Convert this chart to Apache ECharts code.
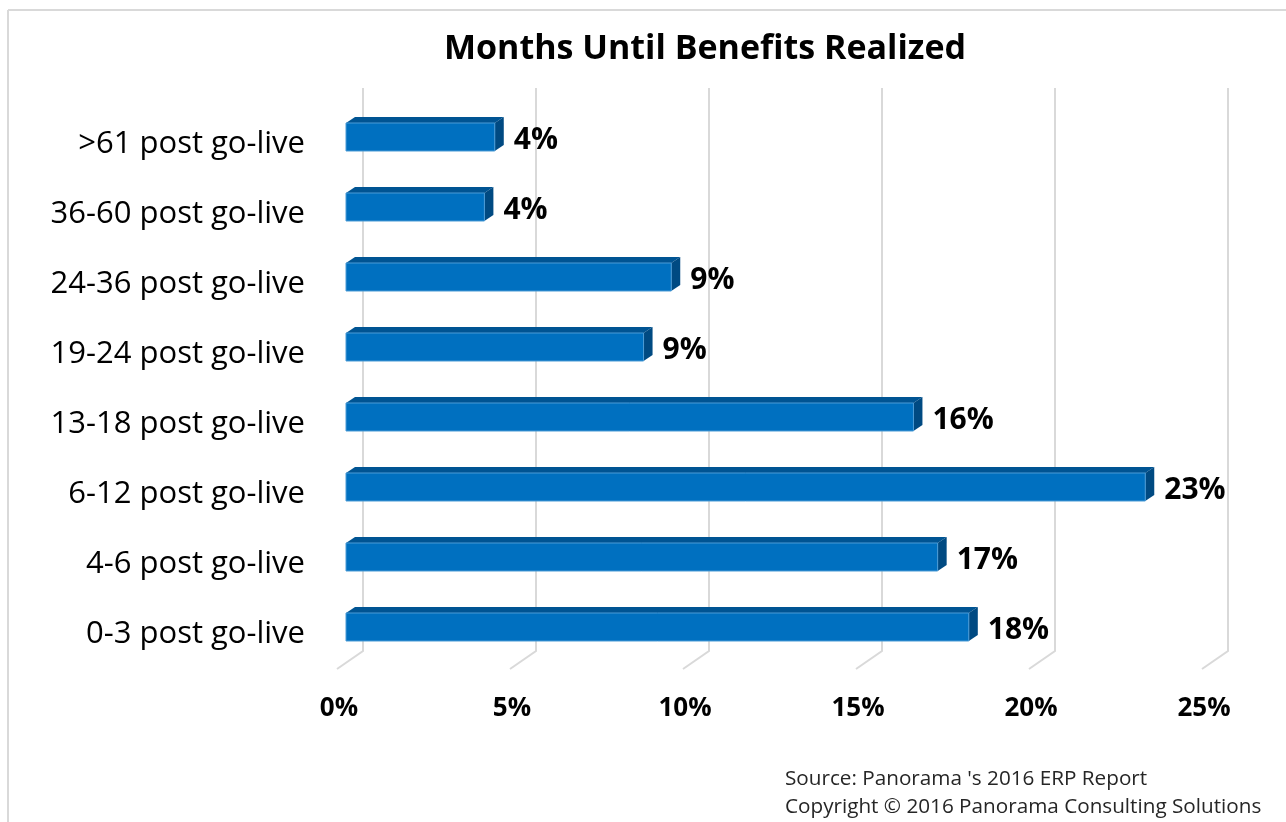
<!DOCTYPE html>
<html>
<head>
<meta charset="utf-8">
<script src="https://cdn.jsdelivr.net/npm/echarts@6/dist/echarts.min.js"></script>
<style>
  html, body { margin: 0; padding: 0; background: #ffffff; }
  #chart { width: 1286px; height: 822px; }
</style>
</head>
<body>
<div id="chart"></div>
<script>
// ---- data ----
const categories = [
  '>61 post go-live',
  '36-60 post go-live',
  '24-36 post go-live',
  '19-24 post go-live',
  '13-18 post go-live',
  '6-12 post go-live',
  '4-6 post go-live',
  '0-3 post go-live'
];
const values = [4.3, 4.0, 9.4, 8.6, 16.4, 23.1, 17.1, 18.0];
const xTicks = [0, 5, 10, 15, 20, 25];
const titleText = 'Months Until Benefits Realized';
const sourceLines = [
  "Source: Panorama 's 2016 ERP Report",
  'Copyright \u00A9 2016 Panorama Consulting Solutions'
];

const FONT = '"Open Sans", "Noto Sans", sans-serif';
const DX = 9, DY = -6, BAR_H = 28;

const chart = echarts.init(document.getElementById('chart'), null, { renderer: 'canvas' });

function renderBar(params, api) {
  const idx = api.value(0);
  const v = api.value(1);
  const p0 = api.coord([0, idx]);
  const p1 = api.coord([v, idx]);
  const x0 = p0[0], x1 = p1[0], c = p0[1];
  const yt = c - BAR_H / 2, yb = c + BAR_H / 2;
  return {
    type: 'group',
    children: [
      { type: 'polygon', shape: { points: [[x0, yt], [x0 + DX, yt + DY], [x1 + DX, yt + DY], [x1, yt]] },
        style: { fill: '#005493' } },
      { type: 'polygon', shape: { points: [[x1, yt], [x1 + DX, yt + DY], [x1 + DX, yb + DY], [x1, yb]] },
        style: { fill: '#004a82' } },
      { type: 'rect', shape: { x: x0, y: yt, width: x1 - x0, height: BAR_H },
        style: { fill: '#0070c0', stroke: '#4a9bd6', lineWidth: 1 } },
      { type: 'text', x: x1 + DX + 10, y: c + 3,
        style: { text: Math.round(v) + '%', fill: '#000', font: 'bold 30px ' + FONT,
                 textAlign: 'left', textVerticalAlign: 'middle' } },
      { type: 'text', x: x0 - 41, y: c + 7,
        style: { text: categories[idx], fill: '#000', font: '31px ' + FONT,
                 textAlign: 'right', textVerticalAlign: 'middle' } }
    ]
  };
}

function renderGrid(params, api) {
  const t = api.value(0);
  const p = api.coord([t, 0]);
  const cs = params.coordSys;
  const xf = p[0];
  const xb = xf + 17;
  const yTop = 88;
  const yBack = cs.y + cs.height - 11;
  const yFront = cs.y + cs.height + 7;
  return {
    type: 'polyline',
    shape: { points: [[xb, yTop], [xb, yBack], [xf - 9, yFront]] },
    style: { stroke: '#d9d9d9', lineWidth: 2, fill: null },
    z2: 0
  };
}

const option = {
  animation: false,
  backgroundColor: '#ffffff',
  title: {
    text: titleText,
    left: 700, top: 27, textAlign: 'center',
    textStyle: { fontFamily: FONT, fontWeight: 'bold', fontSize: 34, color: '#000' }
  },
  grid: { left: 346, right: 75, top: 102, bottom: 160, containLabel: false },
  xAxis: {
    type: 'value', min: 0, max: 25, interval: 5,
    splitLine: { show: false }, axisLine: { show: false }, axisTick: { show: false },
    axisLabel: { formatter: '{value}%', margin: 34, color: '#000', fontFamily: FONT,
                 fontWeight: 'bold', fontSize: 26, padding: [0, 14, 0, 0] }
  },
  yAxis: {
    type: 'category', data: categories, inverse: true,
    axisLine: { show: false }, axisTick: { show: false }, splitLine: { show: false },
    axisLabel: { show: false }
  },
  series: [
    {
      type: 'custom', name: 'grid', renderItem: renderGrid, silent: true, z: 1,
      data: xTicks.map(t => [t]), encode: { x: 0 }, clip: false
    },
    {
      type: 'custom', name: 'bars', renderItem: renderBar, z: 2,
      data: values.map((v, i) => [i, v]), encode: { y: 0, x: 1 }, clip: false
    }
  ],
  graphic: [
    { type: 'line', shape: { x1: 8, y1: 10, x2: 1286, y2: 10 }, style: { stroke: '#d9d9d9', lineWidth: 2 } },
    { type: 'line', shape: { x1: 8, y1: 10, x2: 8, y2: 822 }, style: { stroke: '#d9d9d9', lineWidth: 2 } },
    { type: 'text', left: 785, top: 769,
      style: { text: sourceLines[0], fill: '#262626', font: '20.7px ' + FONT } },
    { type: 'text', left: 785, top: 797,
      style: { text: sourceLines[1], fill: '#262626', font: '20.7px ' + FONT } }
  ]
};

chart.setOption(option);
</script>
</body>
</html>
